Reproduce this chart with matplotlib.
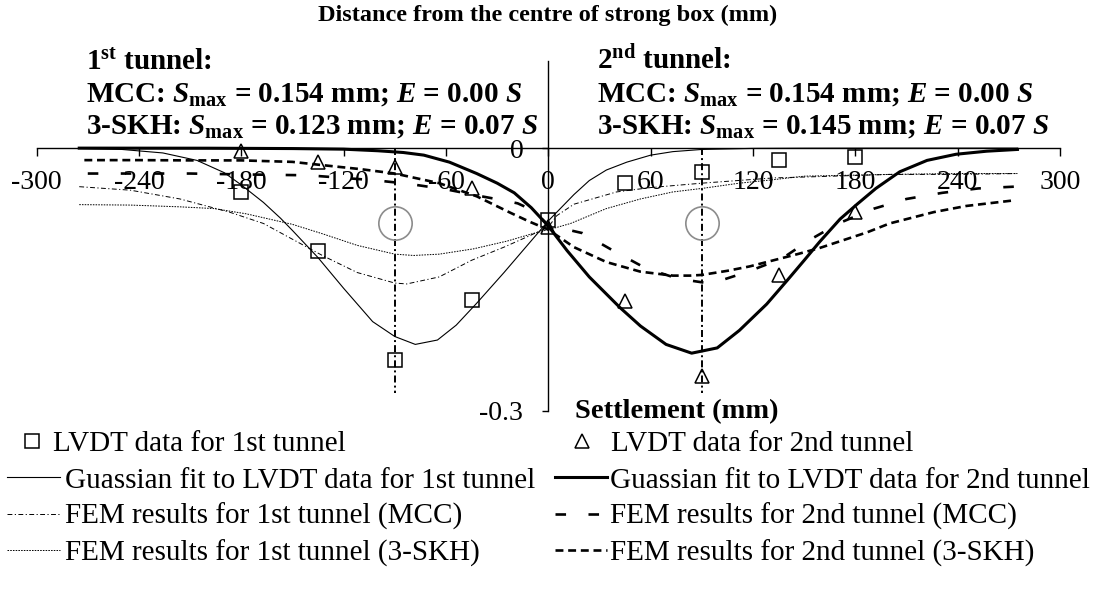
import matplotlib
matplotlib.use("Agg")
import matplotlib.pyplot as plt

plt.rcParams['font.family'] = ['Liberation Serif', 'DejaVu Serif']
plt.rcParams['mathtext.fontset'] = 'custom'
plt.rcParams['mathtext.rm'] = 'Liberation Serif:bold'
plt.rcParams['mathtext.it'] = 'Liberation Serif:italic:bold'
plt.rcParams['mathtext.bf'] = 'Liberation Serif:bold'
plt.rcParams['axes.unicode_minus'] = False

W, H = 1097, 595

# LVDT readings (mm from centre, settlement in mm)
lvdt_x = [-180, -135, -90, -45, 0, 45, 90, 135, 180]
lvdt_1st = [-0.050, -0.117, -0.242, -0.173, -0.082, -0.040, -0.027, -0.014, -0.010]
lvdt_2nd = [-0.003, -0.016, -0.021, -0.046, -0.090, -0.175, -0.260, -0.145, -0.073]

# gaussian fits
fit1_x = [-275, -250, -226, -206, -190, -180, -167, -157, -150, -135, -120, -103, -90, -78,
          -65, -54, -42, -26, -15, 0, 15, 24, 34, 46, 60, 73, 90, 120, 150, 200, 275]
fit1_y = [-0.0003, -0.0015, -0.0055, -0.014, -0.028, -0.042, -0.062, -0.080, -0.094, -0.125,
          -0.160, -0.198, -0.215, -0.224, -0.219, -0.202, -0.177, -0.142, -0.117, -0.083,
          -0.053, -0.037, -0.025, -0.016, -0.008, -0.004, -0.0015, -0.0003, -0.0001, 0.0, 0.0]

fit2_x = [-275, -200, -150, -120, -100, -85, -73, -58, -42, -30, -20, -10, 0, 11, 24, 42, 54,
          69, 84, 99, 112, 128, 140, 150, 159, 171, 181, 192, 206, 222, 239, 257, 275]
fit2_y = [0.0, -0.0001, -0.0005, -0.0012, -0.003, -0.005, -0.008, -0.016, -0.029, -0.040,
          -0.051, -0.068, -0.089, -0.117, -0.147, -0.182, -0.203, -0.224, -0.234, -0.228,
          -0.208, -0.178, -0.151, -0.128, -0.107, -0.081, -0.064, -0.046, -0.027, -0.014,
          -0.007, -0.0035, -0.0015]

# FEM results
fem1_mcc_x = [-275, -245, -216, -187, -167, -150, -132, -112, -90, -83, -64, -45, -26, -11,
              0, 5, 15, 40, 60, 90, 132, 150, 200, 240, 275]
fem1_mcc_y = [-0.044, -0.048, -0.058, -0.073, -0.086, -0.104, -0.123, -0.142, -0.154, -0.155,
              -0.147, -0.128, -0.113, -0.100, -0.090, -0.077, -0.064, -0.050, -0.045, -0.040,
              -0.034, -0.033, -0.030, -0.030, -0.029]

fem1_skh_x = [-275, -245, -216, -196, -177, -150, -132, -112, -90, -79, -64, -44, -24, -10,
              0, 4, 13, 34, 54, 73, 90, 112, 132, 150, 200, 240, 275]
fem1_skh_y = [-0.0645, -0.065, -0.067, -0.069, -0.075, -0.087, -0.098, -0.111, -0.121,
              -0.1225, -0.121, -0.115, -0.106, -0.098, -0.093, -0.091, -0.086, -0.069, -0.058,
              -0.050, -0.046, -0.040, -0.036, -0.032, -0.030, -0.029, -0.029]

fem2_mcc_x = [-270, -240, -210, -180, -141, -120, -100, -81, -60, -42, -28, -18, -9, 0, 20,
              38, 57, 76, 93, 98, 117, 137, 153, 170, 191, 210, 231, 252, 273]
fem2_mcc_y = [-0.029, -0.029, -0.029, -0.030, -0.031, -0.034, -0.037, -0.041, -0.047, -0.054,
              -0.059, -0.063, -0.071, -0.088, -0.097, -0.117, -0.137, -0.149, -0.154, -0.153,
              -0.141, -0.126, -0.105, -0.086, -0.069, -0.058, -0.051, -0.046, -0.044]

fem2_skh_x = [-272, -240, -210, -180, -150, -132, -110, -90, -64, -42, -22, -11, 0, 15, 34,
              54, 73, 83, 90, 105, 118, 132, 146, 159, 173, 187, 200, 226, 245, 273]
fem2_skh_y = [-0.0137, -0.0137, -0.014, -0.014, -0.0157, -0.0195, -0.024, -0.029, -0.040,
              -0.055, -0.074, -0.084, -0.093, -0.113, -0.130, -0.141, -0.1455, -0.1455,
              -0.1447, -0.140, -0.135, -0.128, -0.121, -0.114, -0.105, -0.096, -0.086,
              -0.073, -0.066, -0.0596]

# tunnel centre lines and circles
centre_x = [-90, 90]
centre_depth = -0.28
circle_y = [-0.086, -0.086]

x_ticks = [-300, -240, -180, -120, -60, 0, 60, 120, 180, 240, 300]
y_ticks = [-0.3, 0]
y_tick_labels = ['-0.3', '0']

fig = plt.figure(figsize=(W / 100, H / 100), dpi=100)
ax = fig.add_axes([36.6 / W, 1 - 411 / H, 1023.5 / W, 350.5 / H])

for cx in centre_x:
    ax.plot([cx, cx], [0, centre_depth], color='black', lw=1.4,
            dashes=(3.6, 1.6, 1.0, 1.6), zorder=2)
ax.plot(centre_x, circle_y, linestyle='none', marker='o', markersize=24,
        markerfacecolor='none', markeredgecolor='#8c8c8c', markeredgewidth=1.2, zorder=2)

l_fit1, = ax.plot(fit1_x, fit1_y, color='black', lw=0.8, zorder=3)
l_fit2, = ax.plot(fit2_x, fit2_y, color='black', lw=2.2, zorder=3)
l_f1m, = ax.plot(fem1_mcc_x, fem1_mcc_y, color='black', lw=0.7, dashes=(5, 2.5, 1.2, 2.5), zorder=3)
l_f1s, = ax.plot(fem1_skh_x, fem1_skh_y, color='black', lw=0.7, dashes=(1.6, 1.2), zorder=3)
l_f2m, = ax.plot(fem2_mcc_x, fem2_mcc_y, color='black', lw=1.9, dashes=(4, 8.5), zorder=3)
l_f2s, = ax.plot(fem2_skh_x, fem2_skh_y, color='black', lw=1.9, dashes=(3, 1.8), zorder=3)

m1, = ax.plot(lvdt_x, lvdt_1st, linestyle='none', marker='s', markersize=9.5,
              markerfacecolor='none', markeredgecolor='black', markeredgewidth=1.1, zorder=4)
m2, = ax.plot(lvdt_x, lvdt_2nd, linestyle='none', marker='^', markersize=10.5,
              markerfacecolor='none', markeredgecolor='black', markeredgewidth=1.1, zorder=4)

ax.set_xlim(-300, 300)
ax.set_ylim(-0.3, 0.1)
for s in ['top', 'right']:
    ax.spines[s].set_visible(False)
ax.spines['left'].set_position(('data', 0))
ax.spines['bottom'].set_position(('data', 0))
ax.spines['left'].set_linewidth(1.0)
ax.spines['bottom'].set_linewidth(1.0)
ax.set_xticks(x_ticks)
ax.set_xticklabels([str(v) for v in x_ticks])
ax.set_yticks(y_ticks)
ax.set_yticklabels(y_tick_labels)
ax.tick_params(axis='x', direction='out', length=5.5, width=1.0, labelsize=20, pad=10)
ax.tick_params(axis='y', direction='out', length=4, width=1.0, labelsize=20, pad=14)
ax.patch.set_visible(False)

fig.text(548 / W, 1 - 21 / H, 'Distance from the centre of strong box (mm)',
         ha='center', va='baseline', fontsize=17.5, fontweight='bold')
fig.text(575 / W, 1 - 418 / H, 'Settlement (mm)', ha='left', va='baseline',
         fontsize=20.5, fontweight='bold')

notes = [
    (86, 70, r'1$^{\mathrm{st}}$ tunnel:'),
    (86, 102, r'MCC: $S_{\mathrm{max}}$ = 0.154 mm; $E$ = 0.00 $S$'),
    (86, 134, r'3-SKH: $S_{\mathrm{max}}$ = 0.123 mm; $E$ = 0.07 $S$'),
    (597, 70, r'2$^{\mathrm{nd}}$ tunnel:'),
    (597, 102, r'MCC: $S_{\mathrm{max}}$ = 0.154 mm; $E$ = 0.00 $S$'),
    (597, 134, r'3-SKH: $S_{\mathrm{max}}$ = 0.145 mm; $E$ = 0.07 $S$'),
]
for nx, ny, t in notes:
    fig.text(nx / W, 1 - ny / H, t, ha='left', va='baseline', fontsize=21, fontweight='bold')

fs = 21
fs_px = fs * 100 / 72


def add_legend(handles, labels, x_start, y_mid, hlen, pad):
    fig.legend(handles, labels, loc='center left', bbox_to_anchor=(x_start / W, 1 - y_mid / H),
               frameon=False, fontsize=fs, handlelength=hlen, handletextpad=pad,
               borderpad=0, borderaxespad=0, labelspacing=0.32, numpoints=1)


add_legend([m1], ['LVDT data for 1st tunnel'], 32 - 0.4 * fs_px, 444, 0.8, 0.32)
add_legend([m2], ['LVDT data for 2nd tunnel'], 582 - 0.4 * fs_px, 444, 0.8, 0.6)
add_legend([l_fit1, l_f1m, l_f1s],
           ['Guassian fit to LVDT data for 1st tunnel', 'FEM results for 1st tunnel (MCC)',
            'FEM results for 1st tunnel (3-SKH)'], 7, 517, 1.82, 0.17)
add_legend([l_fit2, l_f2m, l_f2s],
           ['Guassian fit to LVDT data for 2nd tunnel', 'FEM results for 2nd tunnel (MCC)',
            'FEM results for 2nd tunnel (3-SKH)'], 555, 517, 1.78, 0.1)

fig.savefig('out.png', dpi=100)
